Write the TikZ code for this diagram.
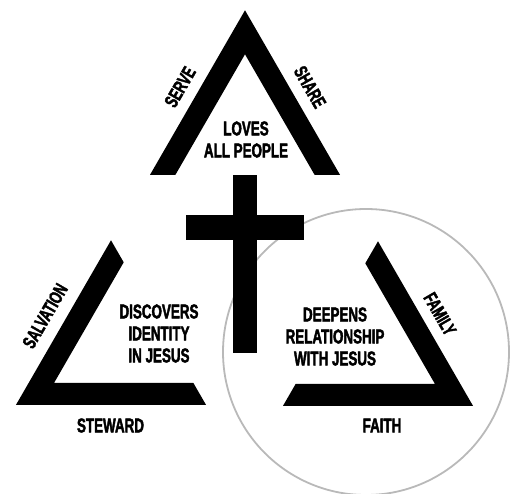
\documentclass[tikz,border=0pt]{standalone}
\usepackage{fontspec}
\newfontfamily\condbold{Liberation Sans Bold}[FakeStretch=0.67,FakeBold=2]

\begin{document}
\begin{tikzpicture}[
  x=1pt,y=1pt,  bigtext/.style={font=\condbold\fontsize{20}{22}\selectfont,align=center,inner sep=0pt},  sidetext/.style={font=\condbold\fontsize{19}{20}\selectfont,inner sep=0pt},  opentri/.pic={\fill (-95,-54.85) -- (0,109.7) -- (95,-54.85) -- (69.6,-54.85) -- (0,65.7) -- (-69.6,-54.85) -- cycle;}
]
  \useasboundingbox (0,0) rectangle (511,493);
  \draw[gray!55,line width=1.8pt] (366,141) circle (143);
  \pic at (245,373) {opentri};
  \pic[rotate=120] at (111,143) {opentri};
  \pic[rotate=-120] at (378,142) {opentri};
  \fill (233,140) rectangle (257,318);
  \fill (186,253) rectangle (304,278);
  \node[sidetext,rotate=60] (serve) at (180,406) {SERVE};
  \node[sidetext,rotate=-60] (share) at (310,406) {SHARE};
  \node[bigtext] (loves) at (246,353.5) {LOVES\\ALL PEOPLE};
  \node[sidetext,rotate=60] (salvation) at (45,177) {SALVATION};
  \node[bigtext] (discovers) at (159,159.5) {DISCOVERS\\IDENTITY\\IN JESUS};
  \node[bigtext] (steward) at (110.5,67.5) {STEWARD};
  \node[bigtext] (deepens) at (335,156.5) {DEEPENS\\RELATIONSHIP\\WITH JESUS};
  \node[sidetext,rotate=-60] (family) at (440,179) {FAMILY};
  \node[bigtext] (faith) at (382,67.5) {FAITH};
\end{tikzpicture}
\end{document}
